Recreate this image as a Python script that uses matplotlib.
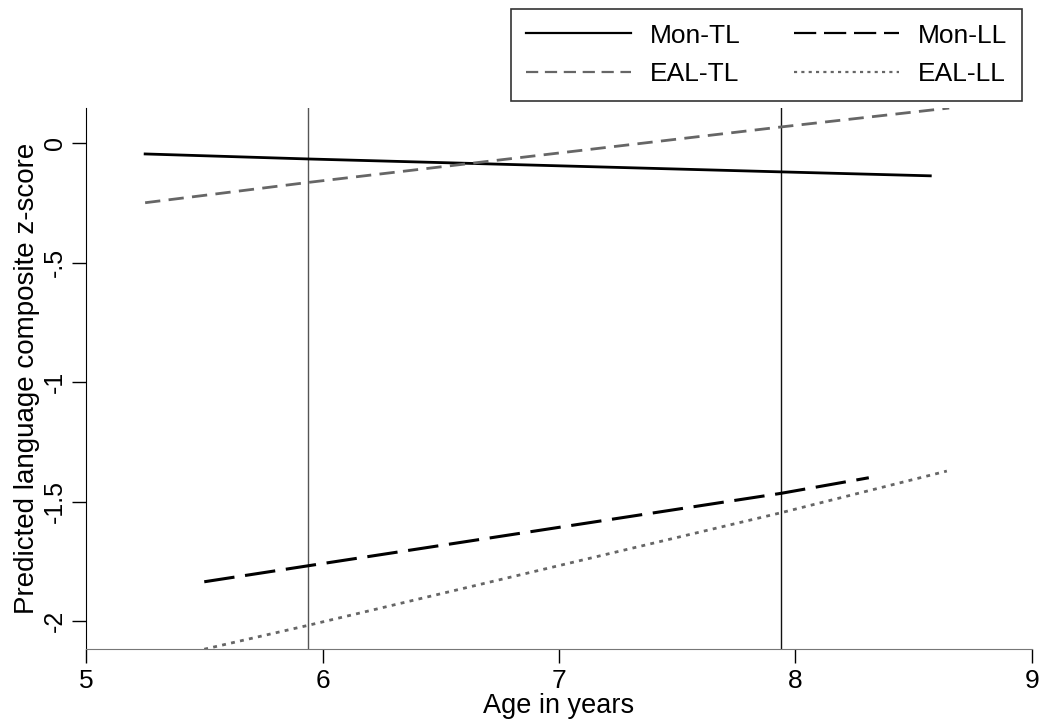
import matplotlib
matplotlib.use("Agg")
import matplotlib.pyplot as plt

plt.rcParams['font.family'] = ['Liberation Sans', 'DejaVu Sans']

# Predicted z-scores (age in years)
mon_tl_x = [5.25, 5.94, 7.94, 8.57]
mon_tl_y = [-0.046, -0.067, -0.121, -0.1375]
eal_tl_x = [5.25, 5.94, 7.94, 8.65]
eal_tl_y = [-0.25, -0.165, 0.067, 0.146]
mon_ll_x = [5.50, 5.94, 7.94, 8.31]
mon_ll_y = [-1.835, -1.768, -1.465, -1.40]
eal_ll_x = [5.50, 5.94, 7.94, 8.64]
eal_ll_y = [-2.117, -2.017, -1.546, -1.372]

# reference ages marked with vertical lines
ref_ages = [5.94, 7.94]
ref_colors = ['#555555', '#111111']

x_ticks = [5, 6, 7, 8, 9]
y_ticks = [0, -0.5, -1, -1.5, -2]
y_tick_labels = ['0', '-.5', '-1', '-1.5', '-2']

fig = plt.figure(figsize=(10.4, 7.27), dpi=100)
ax = fig.add_axes([0.0827, 0.107, 0.9096, 0.7444])

for age, col in zip(ref_ages, ref_colors):
    ax.axvline(age, color=col, linewidth=1.0, zorder=1)

ax.plot(mon_tl_x, mon_tl_y, color='black', linewidth=2.0, label='Mon-TL')
ax.plot(mon_ll_x, mon_ll_y, color='black', linewidth=2.2,
        dashes=(10, 3.5), label='Mon-LL')
ax.plot(eal_tl_x, eal_tl_y, color='#666666', linewidth=2.0,
        dashes=(5.5, 3), label='EAL-TL')
ax.plot(eal_ll_x, eal_ll_y, color='#666666', linewidth=2.0,
        dashes=(1.4, 1.9), label='EAL-LL')

ax.set_xlim(5, 9)
ax.set_ylim(-2.117, 0.146)
ax.set_xticks(x_ticks)
ax.set_yticks(y_ticks)
ax.set_yticklabels(y_tick_labels, rotation=90, va='center')
ax.tick_params(axis='both', direction='out', length=10, width=1, pad=4)
ax.tick_params(axis='x', labelsize=19)
ax.tick_params(axis='y', labelsize=18)

for side in ['top', 'right']:
    ax.spines[side].set_visible(False)
ax.spines['left'].set_color('black')
ax.spines['bottom'].set_color('#777777')

ax.set_xlabel('Age in years', fontsize=19.5, labelpad=0)
ax.set_ylabel('Predicted language composite z-score', fontsize=20, labelpad=2)

handles, labels = ax.get_legend_handles_labels()
order = [0, 2, 1, 3]
leg = fig.legend([handles[i] for i in order], [labels[i] for i in order],
                 ncol=2, loc='upper right', bbox_to_anchor=(0.9827, 0.9876),
                 borderaxespad=0, fontsize=19, frameon=True, fancybox=False,
                 handlelength=4.0, handletextpad=0.72, columnspacing=2.0,
                 borderpad=0.55, labelspacing=0.55)
leg.get_frame().set_edgecolor('black')
leg.get_frame().set_linewidth(1.2)
for line in leg.get_lines():
    line.set_linewidth(1.6)

fig.savefig('out.png', dpi=100, facecolor='white')
